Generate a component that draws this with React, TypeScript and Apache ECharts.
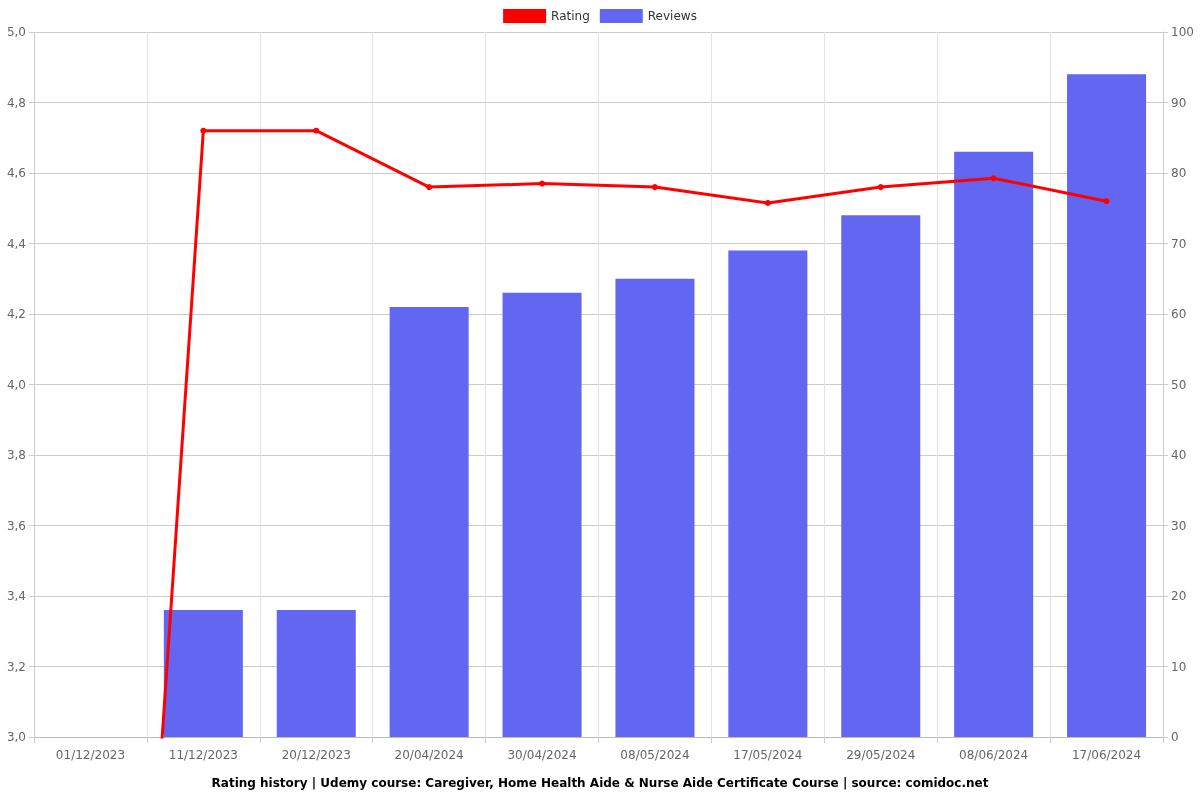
import React, { useEffect, useRef } from "react";
import * as echarts from "echarts";

const categories = ["01/12/2023", "11/12/2023", "20/12/2023", "20/04/2024", "30/04/2024", "08/05/2024", "17/05/2024", "29/05/2024", "08/06/2024", "17/06/2024"];
const ratings = [0, 4.72, 4.72, 4.56, 4.57, 4.56, 4.515, 4.56, 4.585, 4.52];
const reviews = [0, 18, 18, 61, 63, 65, 69, 74, 83, 94];
const titleText = "Rating history | Udemy course: Caregiver, Home Health Aide & Nurse Aide Certificate Course | source: comidoc.net";

export default function App() {
  const ref = useRef<HTMLDivElement>(null);
  useEffect(() => {
    if (!ref.current) return;
    const chart = echarts.init(ref.current, undefined, { renderer: "svg" });
    const font = "DejaVu Sans";
    chart.setOption({
      animation: false,
      textStyle: { fontFamily: font },
      title: {
        text: titleText,
        left: "center",
        bottom: 6,
        textStyle: { fontFamily: font, fontSize: 12, fontWeight: "bold", color: "#000" },
      },
      legend: {
        top: 4,
        left: "center",
        itemWidth: 43,
        itemHeight: 14,
        itemGap: 10,
        icon: "rect",
        textStyle: { fontFamily: font, fontSize: 12, color: "#333" },
        data: ["Rating", "Reviews"],
      },
      grid: { left: 34, right: 37, top: 32, bottom: 63, containLabel: false },
      xAxis: {
        type: "category",
        data: categories,
        boundaryGap: true,
        axisLine: { lineStyle: { color: "#bbb" } },
        axisTick: { show: true, alignWithLabel: false, lineStyle: { color: "#ccc" }, length: 6 },
        axisLabel: { color: "#666", fontSize: 12, fontFamily: font, margin: 12 },
        splitLine: { show: true, lineStyle: { color: "#e3e3e3" } },
      },
      yAxis: [
        {
          type: "value",
          min: 3,
          max: 5,
          interval: 0.2,
          position: "left",
          axisLine: { show: true, lineStyle: { color: "#ccc" } },
          axisTick: { show: true, lineStyle: { color: "#ccc" } },
          axisLabel: {
            color: "#666",
            fontSize: 12,
            fontFamily: font,
            formatter: (v: number) => v.toFixed(1).replace(".", ","),
          },
          splitLine: { show: true, lineStyle: { color: "#ccc" } },
        },
        {
          type: "value",
          min: 0,
          max: 100,
          interval: 10,
          position: "right",
          axisLine: { show: true, lineStyle: { color: "#ccc" } },
          axisTick: { show: true, lineStyle: { color: "#ccc" } },
          axisLabel: { color: "#666", fontSize: 12, fontFamily: font },
          splitLine: { show: false },
        },
      ],
      series: [
        {
          name: "Rating",
          type: "line",
          yAxisIndex: 0,
          data: ratings,
          symbol: "circle",
          symbolSize: 6,
          showSymbol: true,
          clip: true,
          z: 5,
          color: "#ff0000",
          lineStyle: { color: "#ff0000", width: 3 },
          itemStyle: { color: "#ff0000" },
        },
        {
          name: "Reviews",
          type: "bar",
          yAxisIndex: 1,
          data: reviews,
          barWidth: "70%",
          z: 2,
          color: "#6366f1",
          itemStyle: { color: "#6366f1" },
        },
      ],
    });
    return () => chart.dispose();
  }, []);
  return <div ref={ref} style={{ position: "fixed", left: 0, top: 0, width: 1200, height: 800 }} />;
}
